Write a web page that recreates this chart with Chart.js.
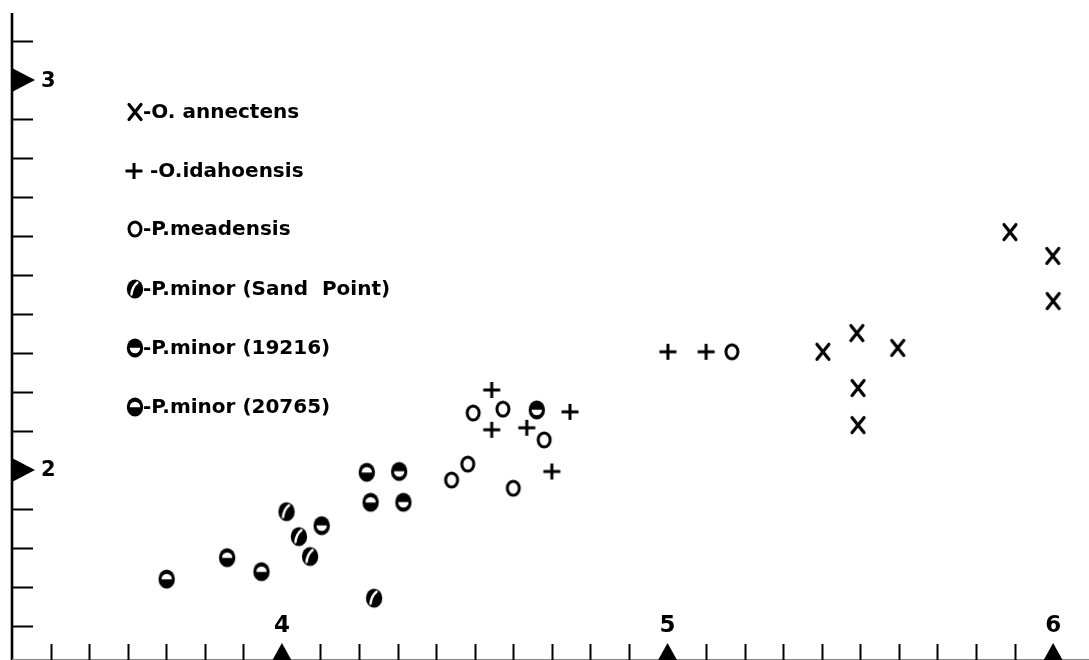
<!DOCTYPE html>
<html><head><meta charset="utf-8">
<script src="https://cdn.jsdelivr.net/npm/chart.js@4/dist/chart.umd.min.js"></script>
<style>html,body{margin:0;padding:0;background:#fff;}canvas{display:block}</style>
</head><body>
<canvas id="c" width="1089" height="660"></canvas>
<script>
// ---- data ----
const annectensX = [5.888, 5.999, 6.000, 5.403, 5.491, 5.597, 5.494, 5.494];
const annectensY = [2.610, 2.549, 2.433, 2.303, 2.351, 2.313, 2.210, 2.115];

const idahoensisX = [5.001, 5.100, 4.544, 4.544, 4.635, 4.747, 4.700];
const idahoensisY = [2.303, 2.303, 2.205, 2.103, 2.108, 2.149, 1.996];

const meadensisX = [5.167, 4.496, 4.573, 4.680, 4.440, 4.482, 4.600];
const meadensisY = [2.303, 2.146, 2.156, 2.077, 1.974, 2.015, 1.953];

const sandPointX = [4.012, 4.044, 4.073, 4.239];
const sandPointY = [1.893, 1.829, 1.778, 1.671];

const minor19216X = [4.304, 4.315, 4.103, 4.661];
const minor19216Y = [1.996, 1.917, 1.857, 2.154];

const minor20765X = [3.701, 3.858, 3.947, 4.220, 4.230];
const minor20765Y = [1.720, 1.775, 1.739, 1.994, 1.917];

const xMajorLabels = [4, 5, 6];
const yMajorLabels = [2, 3];
const legendTexts = ["-O. annectens", " -O.idahoensis", "-P.meadensis",
  "-P.minor (Sand  Point)", "-P.minor (19216)", "-P.minor (20765)"];

// ---- marker glyphs ----
function glyph(w, h, draw) {
  const c = document.createElement('canvas');
  c.width = w; c.height = h;
  const g = c.getContext('2d');
  draw(g, w / 2, h / 2);
  return c;
}
const mX = glyph(22, 22, (g, cx, cy) => {
  g.strokeStyle = '#000'; g.lineWidth = 3.2; g.lineCap = 'round';
  g.beginPath();
  g.moveTo(cx - 6, cy - 7.5); g.lineTo(cx + 6, cy + 7.5);
  g.moveTo(cx + 6, cy - 7.5); g.lineTo(cx - 6, cy + 7.5);
  g.stroke();
});
const mPlus = glyph(22, 22, (g, cx, cy) => {
  g.strokeStyle = '#000'; g.lineWidth = 3; g.lineCap = 'butt';
  g.beginPath();
  g.moveTo(cx - 8.5, cy); g.lineTo(cx + 8.5, cy);
  g.moveTo(cx, cy - 8); g.lineTo(cx, cy + 8);
  g.stroke();
});
const mO = glyph(22, 22, (g, cx, cy) => {
  g.strokeStyle = '#000'; g.lineWidth = 3;
  g.beginPath(); g.ellipse(cx, cy, 6, 7, 0, 0, Math.PI * 2); g.stroke();
});
function blackOval(g, cx, cy) {
  g.fillStyle = '#000';
  g.beginPath(); g.ellipse(cx, cy, 8.2, 9.6, 0, 0, Math.PI * 2); g.fill();
  g.fillStyle = '#fff';
}
const mSand = glyph(22, 22, (g, cx, cy) => {
  blackOval(g, cx, cy);
  g.strokeStyle = '#fff'; g.lineWidth = 2.4; g.lineCap = 'round';
  g.beginPath(); g.moveTo(cx - 3.5, cy + 5.5);
  g.quadraticCurveTo(cx - 3, cy - 2, cx + 2.5, cy - 6.5); g.stroke();
});
const m19216 = glyph(22, 22, (g, cx, cy) => {
  blackOval(g, cx, cy);
  g.beginPath(); g.ellipse(cx, cy - 0.3, 5.2, 5.6, 0, 0, Math.PI); g.closePath(); g.fill();
});
const m20765 = glyph(22, 22, (g, cx, cy) => {
  blackOval(g, cx, cy);
  g.beginPath(); g.ellipse(cx, cy + 0.3, 5.2, 5.6, 0, Math.PI, Math.PI * 2); g.closePath(); g.fill();
});
const legendGlyphs = [mX, mPlus, mO, mSand, m19216, m20765];

function pts(xs, ys) { return xs.map((x, i) => ({ x: x, y: ys[i] })); }
function ds(label, xs, ys, style) {
  return { label, data: pts(xs, ys), pointStyle: style, pointRadius: 8, pointHoverRadius: 8,
           backgroundColor: '#000', borderColor: '#000', showLine: false };
}

// ---- axes / legend drawing plugin ----
const FONT = '"DejaVu Sans", sans-serif';
const axesPlugin = {
  id: 'oldAxes',
  afterDatasetsDraw(chart) {
    const ctx = chart.ctx, xs = chart.scales.x, ys = chart.scales.y, a = chart.chartArea;
    const left = a.left;
    ctx.save();
    ctx.strokeStyle = '#000'; ctx.fillStyle = '#000';
    // y axis line
    ctx.lineWidth = 2.6;
    ctx.beginPath(); ctx.moveTo(left, a.top); ctx.lineTo(left, 660); ctx.stroke();
    // x axis line (mostly cut off at the bottom edge)
    ctx.lineWidth = 1; ctx.strokeStyle = '#888';
    ctx.beginPath(); ctx.moveTo(left, 659.5); ctx.lineTo(a.right, 659.5); ctx.stroke();
    ctx.strokeStyle = '#000';
    // y minor ticks
    ctx.lineWidth = 2;
    for (let i = 16; i <= 31; i++) {
      if (i % 10 === 0) continue;
      const py = Math.round(ys.getPixelForValue(i / 10)) + 0.5;
      ctx.beginPath(); ctx.moveTo(left, py); ctx.lineTo(left + 21, py); ctx.stroke();
    }
    // x minor ticks
    for (let i = 34; i <= 60; i++) {
      if (i % 10 === 0) continue;
      const px = Math.round(xs.getPixelForValue(i / 10)) + 0.5;
      ctx.beginPath(); ctx.moveTo(px, 660); ctx.lineTo(px, 644); ctx.stroke();
    }
    // y major triangles and labels
    ctx.font = 'bold 21px ' + FONT; ctx.textAlign = 'left'; ctx.textBaseline = 'middle';
    yMajorLabels.forEach(v => {
      const py = ys.getPixelForValue(v);
      ctx.beginPath(); ctx.moveTo(left - 1, py - 12.5); ctx.lineTo(left + 23, py); ctx.lineTo(left - 1, py + 12.5);
      ctx.closePath(); ctx.fill();
      ctx.fillText(String(v), left + 29, py + 1);
    });
    // x major triangles and labels
    ctx.font = 'bold 23px ' + FONT; ctx.textAlign = 'center';
    xMajorLabels.forEach(v => {
      const px = xs.getPixelForValue(v);
      ctx.beginPath(); ctx.moveTo(px - 10, 661); ctx.lineTo(px, 643); ctx.lineTo(px + 10, 661);
      ctx.closePath(); ctx.fill();
      ctx.fillText(String(v), px, 626);
    });
    // legend
    const ly = [112, 171, 229, 289, 348, 407];
    ctx.font = 'bold 20px ' + FONT; ctx.textAlign = 'left';
    legendTexts.forEach((t, i) => {
      const gx = i === 1 ? 134 : 135;
      const gl = legendGlyphs[i];
      ctx.drawImage(gl, gx - gl.width / 2, ly[i] - gl.height / 2);
      ctx.fillText(t, 143, ly[i] + 1);
    });
    ctx.restore();
  }
};

new Chart(document.getElementById('c'), {
  type: 'scatter',
  data: {
    datasets: [
      ds('O. annectens', annectensX, annectensY, mX),
      ds('O. idahoensis', idahoensisX, idahoensisY, mPlus),
      ds('P. meadensis', meadensisX, meadensisY, mO),
      ds('P. minor (Sand Point)', sandPointX, sandPointY, mSand),
      ds('P. minor (19216)', minor19216X, minor19216Y, m19216),
      ds('P. minor (20765)', minor20765X, minor20765Y, m20765)
    ]
  },
  options: {
    responsive: false, animation: false,
    layout: { autoPadding: false, padding: { left: 12, top: 13, right: 0, bottom: 1 } },
    plugins: { legend: { display: false }, tooltip: { enabled: false } },
    scales: {
      x: { type: 'linear', min: 3.3, max: 6.093, display: false },
      y: { type: 'linear', min: 1.515, max: 3.172, display: false }
    }
  },
  plugins: [axesPlugin]
});
</script>
</body></html>
